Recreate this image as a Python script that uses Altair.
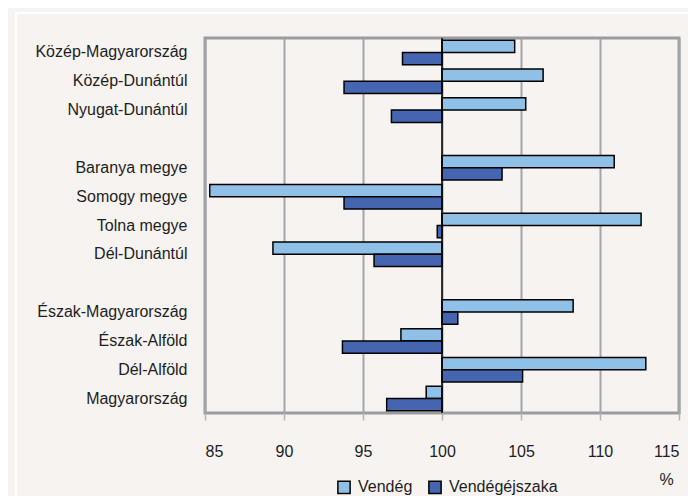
import altair as alt
import pandas as pd

categories = ["Közép-Magyarország", "Közép-Dunántúl", "Nyugat-Dunántúl", " ",
              "Baranya megye", "Somogy megye", "Tolna megye", "Dél-Dunántúl", "  ",
              "Észak-Magyarország", "Észak-Alföld", "Dél-Alföld", "Magyarország"]
regions = ["Közép-Magyarország", "Közép-Dunántúl", "Nyugat-Dunántúl",
           "Baranya megye", "Somogy megye", "Tolna megye", "Dél-Dunántúl",
           "Észak-Magyarország", "Észak-Alföld", "Dél-Alföld", "Magyarország"]
vendeg = [104.6, 106.4, 105.3, 110.9, 85.3, 112.6, 89.3, 108.3, 97.4, 112.9, 99.0]
vendegejszaka = [97.5, 93.8, 96.8, 103.8, 93.8, 99.7, 95.7, 101.0, 93.7, 105.1, 96.5]
series = ["Vendég", "Vendégéjszaka"]
colors = ["#8ec0e8", "#4466b0"]
x_ticks = [85, 90, 95, 100, 105, 110, 115]

rows = []
for r, a, b in zip(regions, vendeg, vendegejszaka):
    rows.append({"region": r, "series": series[0], "value": a})
    rows.append({"region": r, "series": series[1], "value": b})
df = pd.DataFrame(rows)

FONT = "Liberation Sans Narrow, Arial Narrow, Liberation Sans, sans-serif"

y_enc = alt.Y("region:N", sort=categories,
              scale=alt.Scale(domain=categories, paddingInner=0.15, paddingOuter=0.075),
              axis=alt.Axis(title=None, ticks=False, domain=False, labelPadding=18,
                            labelFontSize=16, labelFont=FONT, labelColor="#1e1e1e",
                            labelExpr="trim(datum.label)"))

x_scale = alt.Scale(domain=[85, 115], nice=False, zero=False)

bars = alt.Chart(df).mark_bar(stroke="black", strokeWidth=1.5).encode(
    x=alt.X("value:Q", scale=x_scale,
            axis=alt.Axis(values=x_ticks, title="%", grid=True, gridColor="#a3a5a8",
                          gridWidth=2, domain=False, tickColor="#b5b5b5", tickSize=7,
                          tickWidth=1.5, labelPadding=23, labelFontSize=16, labelFont=FONT,
                          labelColor="#1e1e1e", titleFont=FONT, titleFontSize=16,
                          titleFontWeight="normal", titleColor="#1e1e1e",
                          titleAlign="center", titleX=461, titleY=66,
                          titleBaseline="middle")),
    x2=alt.datum(100),
    y=y_enc,
    yOffset=alt.YOffset("series:N", sort=series, scale=alt.Scale(paddingInner=0, paddingOuter=0)),
    color=alt.Color("series:N", sort=series,
                    scale=alt.Scale(domain=series, range=colors),
                    legend=alt.Legend(title=None, orient="none", legendX=131, legendY=441,
                                      direction="horizontal", symbolType="square",
                                      symbolSize=150, symbolStrokeColor="black",
                                      symbolStrokeWidth=1.5, labelFontSize=16,
                                      labelFont=FONT, labelColor="#1e1e1e",
                                      columnPadding=12, labelOffset=6)),
)

base_line = alt.Chart(pd.DataFrame({"v": [100]})).mark_rule(color="black", strokeWidth=1.5).encode(
    x=alt.X("v:Q", scale=x_scale)
)

# decorative white frame of the original picture
frame_h = alt.Chart(pd.DataFrame({"k": [0]})).mark_rule(color="white", strokeWidth=2).encode(
    x=alt.value(-190), x2=alt.value(500), y=alt.value(-25)
)
frame_v = alt.Chart(pd.DataFrame({"k": [0]})).mark_rule(color="white", strokeWidth=2).encode(
    x=alt.value(-189), y=alt.value(-26), y2=alt.value(470)
)

chart = alt.layer(frame_h, frame_v, bars, base_line).properties(
    width=474, height=375,
    autosize=alt.AutoSizeParams(type="none"),
    padding={"left": 197, "top": 30, "right": 9, "bottom": 83},
    background="#f6f3f0",
).configure_view(stroke="#9a9ca0", strokeWidth=3)

chart.save("out.html", embed_options={"renderer": "svg", "actions": False})
